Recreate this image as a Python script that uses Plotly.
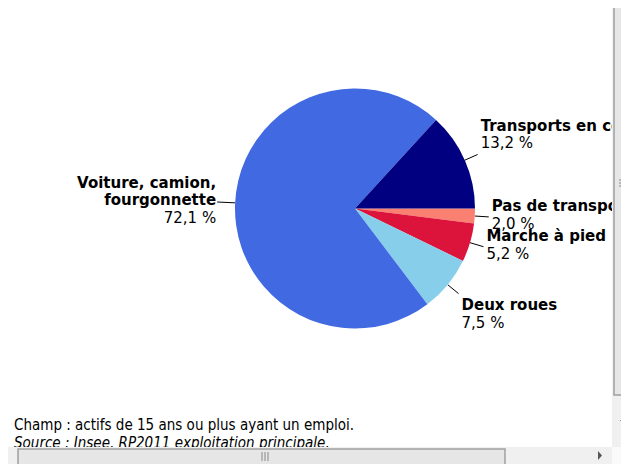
import math
import plotly.graph_objects as go

# Mode de transport principal pour aller travailler (part en %)
categories = ["Pas de transport", "Marche à pied", "Deux roues",
              "Voiture, camion, fourgonnette", "Transports en commun"]
label_lines = [["Pas de transport"], ["Marche à pied"], ["Deux roues"],
               ["Voiture, camion,", "fourgonnette"], ["Transports en commun"]]
shares = [2.0, 5.2, 7.5, 72.1, 13.2]
colors = ["salmon", "crimson", "skyblue", "royalblue", "navy"]

champ = "Champ : actifs de 15 ans ou plus ayant un emploi."
source = "Source : Insee, RP2011 exploitation principale."

W, H = 629, 464                # window
OFF = 8                        # page body margin
CX, CY, R = 355, 208.5, 120   # pie centre / radius in window px
LS = 17.5                      # label line spacing
DY = 2                         # plotly 'middle' text sits a bit high
FONT = "DejaVu Sans"
NOTE_FONT = "DejaVu Sans Condensed, Liberation Sans, sans-serif"
FW, FH = W - OFF, H - OFF      # figure size

fig = go.Figure()

fig.add_trace(go.Pie(values=shares, labels=categories, sort=False,
                     direction="clockwise", rotation=90,
                     marker=dict(colors=colors), textinfo="none",
                     hoverinfo="label+percent", showlegend=False,
                     domain=dict(x=[(CX - R - OFF) / FW, (CX + R - OFF) / FW],
                                 y=[1 - (CY + R - OFF) / FH, 1 - (CY - R - OFF) / FH])))

# labels + leader lines from slice mid angles
lx, ly = [], []
tx, ty, tt, tp = [], [], [], []
cum = 0
for lines, v in zip(label_lines, shares):
    th = -math.radians((cum + v / 2) / 100 * 360)
    cum += v
    c, s = math.cos(th), math.sin(th)
    lead = 14 if c >= 0 else 18
    ex, ey = CX + (R + lead) * c, CY - (R + lead) * s
    lx += [CX + R * c, ex, None]
    ly += [CY - R * s, ey, None]
    rows = ["<b>%s</b>" % t for t in lines] + [("%.1f" % v).replace(".", ",") + " %"]
    n = len(rows)
    if s > 0.35:
        y0 = ey - 12 - (n - 1) * LS
    elif s < -0.35:
        y0 = ey + 11
    else:
        y0 = ey - 2.5 - (n - 1) * LS / 2
    for i, r in enumerate(rows):
        tx.append(ex + 3 if c >= 0 else ex - 1)
        ty.append(y0 + i * LS + DY)
        tt.append(r)
        tp.append("middle right" if c >= 0 else "middle left")

fig.add_trace(go.Scatter(x=lx, y=ly, mode="lines", line=dict(color="black", width=1),
                         hoverinfo="skip", showlegend=False))
fig.add_trace(go.Scatter(x=tx, y=ty, mode="text", text=tt, textposition=tp,
                         textfont=dict(family=FONT, size=15, color="black"),
                         hoverinfo="skip", showlegend=False))

# notes
fig.add_trace(go.Scatter(x=[14, 14], y=[424 + DY, 442 + DY], mode="text",
                         text=[champ, "<i>%s</i>" % source], textposition="middle right",
                         textfont=dict(family=NOTE_FONT, size=15, color="black"),
                         hoverinfo="skip", showlegend=False))

# browser scrollbars (screenshot frame)
shapes = [
    dict(type="rect", x0=612, x1=W, y0=0, y1=447, fillcolor="#f0f0f0", line_width=0),
    dict(type="rect", x0=614, x1=W + 2, y0=-2, y1=395, fillcolor="#e6e6e6",
         line=dict(color="#a0a0a0", width=1.5)),
    dict(type="rect", x0=0, x1=W, y0=447, y1=H, fillcolor="#f0f0f0", line_width=0),
    dict(type="rect", x0=18, x1=505, y0=449, y1=H + 2, fillcolor="#e6e6e6",
         line=dict(color="#a0a0a0", width=1.5)),
    dict(type="rect", x0=612, x1=W, y0=447, y1=H, fillcolor="#fafafa", line_width=0),
    dict(type="path", path="M 620 420 L 628 420 L 624 425 Z", fillcolor="#555", line_width=0),
    dict(type="path", path="M 8 451 L 8 460 L 4 455.5 Z", fillcolor="#999", line_width=0),
    dict(type="path", path="M 598 451 L 598 460 L 602 455.5 Z", fillcolor="#555", line_width=0),
]
for k in range(3):
    shapes.append(dict(type="line", x0=619, x1=627, y0=180 + 3 * k, y1=180 + 3 * k,
                       line=dict(color="#888", width=1)))
    shapes.append(dict(type="line", x0=262 + 3 * k, x1=262 + 3 * k, y0=452, y1=461,
                       line=dict(color="#888", width=1)))
for sh in shapes:
    sh.update(xref="x", yref="y", layer="above")

fig.update_layout(
    width=FW, height=FH,
    margin=dict(l=0, r=0, t=0, b=0),
    paper_bgcolor="white", plot_bgcolor="white",
    xaxis=dict(range=[OFF, W], visible=False, fixedrange=True),
    yaxis=dict(range=[H, OFF], visible=False, fixedrange=True),
    shapes=shapes,
    showlegend=False,
)

fig.write_html("out.html")
